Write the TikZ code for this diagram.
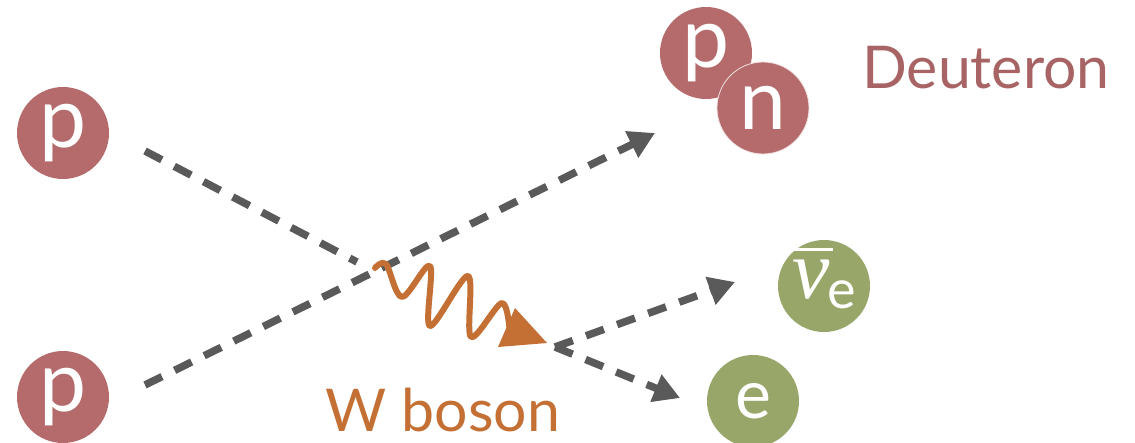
\documentclass[tikz,border=0pt]{standalone}
\usepackage{fontspec}
\setmainfont{Lato}
\newfontfamily\greekit{Liberation Serif}
\usetikzlibrary{arrows.meta}
\definecolor{nred}{RGB}{181,107,107}
\definecolor{dred}{RGB}{168,100,100}
\definecolor{lgreen}{RGB}{152,166,106}
\definecolor{wor}{RGB}{196,112,52}
\definecolor{lgray}{RGB}{90,90,90}
\begin{document}
\begin{tikzpicture}[x=1pt,y=-1pt,
  ball/.style={circle,minimum size=92pt,inner sep=0pt,text=white},
  dline/.style={draw=lgray,line width=7.5pt,dash pattern=on 19pt off 14pt},
  tipbig/.style={-{Triangle[length=26pt,width=28pt]}},
  bigletter/.style={font=\fontsize{84}{84}\selectfont},
  label/.style={anchor=base,inner sep=0pt},
  wline/.style={draw=wor,line width=6pt,line cap=round,line join=round}
]
\useasboundingbox (0,0) rectangle (1135,442);
% particles
\node[ball,fill=nred,bigletter] (p1) at (63,133) {p};
\node[ball,fill=nred,bigletter] (p2) at (63,397) {p};
\node[ball,fill=nred,bigletter] (dp) at (706,53) {p};
\node[ball,fill=nred,bigletter,draw=white!80!nred,line width=0.8pt] (dn) at (763,108) {n};
\node[ball,fill=lgreen] (nu) at (824,286) {\fontsize{84}{84}\selectfont\rule[-26pt]{0pt}{76pt}\makebox[0pt][c]{\makebox[0pt][l]{\hspace{-1pt}\raisebox{47pt}{\rule{42pt}{3pt}}}{\greekit\itshape ν}\hspace{-2pt}\raisebox{-10pt}{\fontsize{54}{54}\selectfont e}}};
\node[ball,fill=lgreen,font=\fontsize{68}{68}\selectfont] (e) at (753,401) {e};
% labels
\node[label,text=dred,font=\fontsize{59}{59}\selectfont] (deut) at (986,88) {Deuteron};
\node[label,text=wor,font=\fontsize{59}{59}\selectfont] (wlab) at (443,431) {W boson};
% coordinates
\coordinate (S1) at (145,151);
\coordinate (S2) at (145,385);
\coordinate (X) at (357,262);
\coordinate (D) at (655,133);
\coordinate (V) at (555,347);
\coordinate (N) at (735,282);
\coordinate (E) at (680,398);
\coordinate (wa) at (515,308);
\coordinate (wt) at (547,343);
\coordinate (wc) at (498,347);
% dashed lines
\draw[dline] (S1) -- (X);
\draw[dline,tipbig] (S2) -- (D);
\draw[dline,tipbig] (V) -- (N);
\draw[dline,tipbig] (V) -- (E);
% W boson wave
\draw[wline] plot[smooth,tension=0.55] coordinates {(375,268) (386,264) (402,297) (430,266) (430,326) (468,276) (471,337) (502,303) (510,334)};
\fill[wor] (wa) -- (wt) -- (wc) -- cycle;
\end{tikzpicture}
\end{document}
